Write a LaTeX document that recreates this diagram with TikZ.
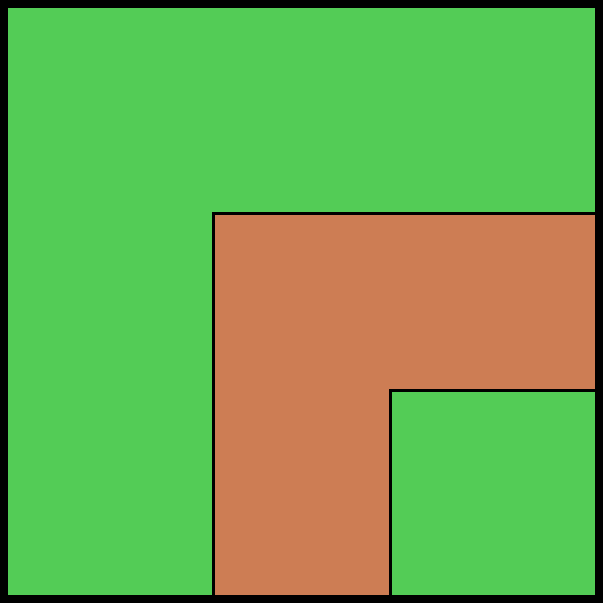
\documentclass[tikz,border=0pt]{standalone}
\definecolor{lawn}{RGB}{83,204,86}
\definecolor{soil}{RGB}{205,125,84}
\tikzset{
  region/.style={draw=black, line width=3pt},
  frame/.style={draw=black, line width=7.5pt}
}
\begin{document}
\begin{tikzpicture}[x=1pt,y=-1pt]
\useasboundingbox (0,0) rectangle (603,603);
\fill[white] (0,0) rectangle (603,603);
\fill[lawn] (3.75,3.75) rectangle (599,599);
\path[region, fill=soil] (213.5,213.5) rectangle (599,599);
\path[region, fill=lawn] (390.5,390.5) rectangle (599,599);
\path[frame] (3.75,3.75) rectangle (599,599);
\end{tikzpicture}
\end{document}
